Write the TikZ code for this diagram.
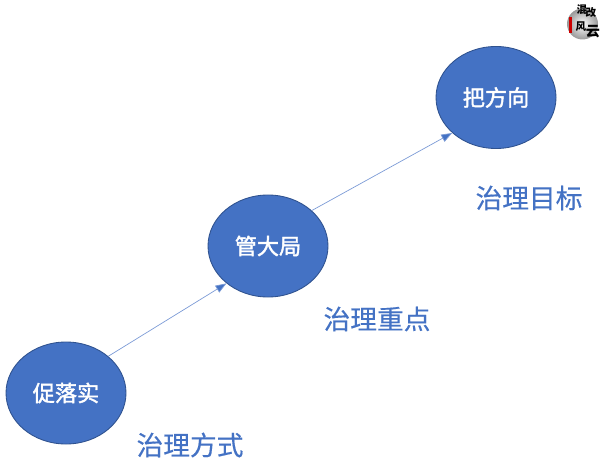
\documentclass[tikz,border=0pt]{standalone}
\usepackage{fontspec}
\setmainfont{Noto Sans CJK SC}
\newfontfamily\nodefont[FakeBold=1.8]{Noto Sans CJK SC}
\newfontfamily\labelfont[FakeBold=0.4]{Noto Sans CJK SC}
\usetikzlibrary{arrows.meta, shapes.geometric, positioning}
\definecolor{nodeblue}{HTML}{4472C4}
\definecolor{nodeedge}{HTML}{2F528F}
\definecolor{linkblue}{HTML}{7C9BD6}
\tikzset{
    goalnode/.style={ellipse, draw=nodeedge, line width=0.25pt, fill=nodeblue, text=white, minimum width=1.2cm, minimum height=1.02cm, inner sep=0pt, font=\nodefont\fontsize{6.3}{7}\selectfont},
    levellabel/.style={text=nodeblue, inner sep=0pt, font=\labelfont\fontsize{7.6}{9}\selectfont},
    goallink/.style={linkblue, line width=0.2pt, -{Triangle[length=1.1mm,width=0.8mm,fill=nodeblue]}},
    logochar/.style={text=black, inner sep=0pt, font=\fontsize{3}{4}\bfseries\selectfont}
}
\begin{document}
\begin{tikzpicture}
    \useasboundingbox (0,0) rectangle (6.10,4.62);

    \node[goalnode] (luoshi) at (0.66,0.69) {促落实};
    \node[goalnode] (daju) at (2.68,2.16) {管大局};
    \node[goalnode] (fangxiang) at (4.96,3.645) {把方向};

    \draw[goallink] (luoshi.41) -- (daju.222);
    \draw[goallink] (daju.39) -- (fangxiang.219);

    \node[levellabel] (fangshi) at (1.90,0.17) {治理方式};
    \node[levellabel] (zhongdian) at (3.77,1.43) {治理重点};
    \node[levellabel] (mubiao) at (5.29,2.64) {治理目标};

    % logo
    \node[circle, minimum size=0.31cm, inner sep=0pt, inner color=white, outer color=black!40] (logo) at (5.825,4.38) {};
    \node[fill=red!80!black, minimum width=0.025cm, minimum height=0.16cm, inner sep=0pt] (seal) at (5.705,4.37) {};
    \node[logochar] (hun) at (5.82,4.52) {混};
    \node[logochar] (gai) at (5.91,4.49) {改};
    \node[logochar] (feng) at (5.81,4.35) {风};
    \node[logochar, font=\fontsize{4}{5}\bfseries\selectfont] (yun) at (5.93,4.30) {云};
\end{tikzpicture}
\end{document}
